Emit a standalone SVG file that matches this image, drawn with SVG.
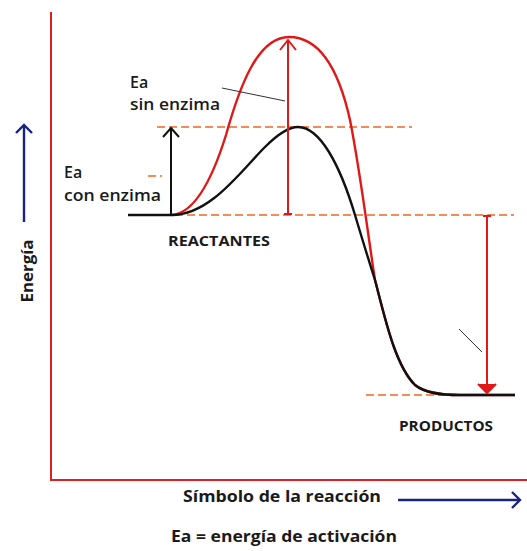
<svg xmlns="http://www.w3.org/2000/svg" width="527" height="551" viewBox="0 0 527 551">
<style>
.t{font-family:"Open Sans","Liberation Sans",sans-serif;font-weight:600;fill:#1a1a1a}
.b{font-weight:700}
.dash{stroke:#f26522;stroke-width:1.6;stroke-dasharray:8 4;fill:none}
.lead{stroke:#333;stroke-width:1;fill:none}
</style>
<rect width="527" height="551" fill="#fff"/>
<g id="axes" fill="none" stroke="#e02020" stroke-width="2">
<path d="M51,12 V480 H527"/>
</g>
<g id="guides">
<line class="dash" x1="157" y1="127" x2="412" y2="127"/>
<line class="dash" x1="175" y1="215" x2="514" y2="215"/>
<line class="dash" x1="366" y1="395" x2="445" y2="395"/>
<line class="dash" x1="148" y1="176" x2="162" y2="176"/>
</g>
<g id="curves" fill="none" stroke-width="2.4">
<path id="red-curve" stroke="#e01818" d="M172,215 C195,213 212,180 226,135 C240,85 258,37 289,37 C322,37 340,75 350,120 C360,170 368,235 375,280 C385,318 395,365 415,385 C425,393 440,395 460,395 L515,395"/>
<path id="black-curve" stroke="#111" d="M128,215 L172,215 C210,215 240,172 265,147 C280,132 290,127 298,127 C320,127 340,165 355,215 C361,235 368,258 375,280 C385,318 395,365 415,385 C425,393 440,395 460,395 L515,395"/>
</g>
<g id="connectors" fill="none">
<g id="arrow-ea-con" stroke="#111" stroke-width="2">
<line x1="171" y1="215" x2="171" y2="129"/>
<path d="M163,137 L171,128 L179,137"/>
</g>
<g id="arrow-ea-sin" stroke="#e01818" stroke-width="2">
<line x1="288" y1="214" x2="288" y2="41"/>
<path d="M280,50 L288,40 L296,50"/>
<line x1="284" y1="214" x2="292" y2="214"/>
</g>
<g id="arrow-dh" stroke="#e01818" stroke-width="2">
<line x1="487" y1="216" x2="487" y2="392"/>
<line x1="483" y1="216" x2="491" y2="216"/>
<path d="M478,384 L487,393 L496,384" fill="#e01818"/>
</g>
<g id="arrow-energy" stroke="#1a237e" stroke-width="2.4">
<line x1="24" y1="222" x2="24" y2="126"/>
<path d="M16,133 L24,125 L32,133"/>
</g>
<g id="arrow-reaction" stroke="#1a237e" stroke-width="2.4">
<line x1="398" y1="500" x2="519" y2="500"/>
<path d="M512,492 L520,500 L512,508"/>
</g>
<line class="lead" x1="222" y1="88" x2="285" y2="101"/>
<line class="lead" x1="459" y1="329" x2="482" y2="352"/>
</g>
<g id="labels">
<text class="t" x="130" y="88" font-size="16">Ea</text>
<text class="t" x="130" y="110" font-size="16" textLength="90" lengthAdjust="spacingAndGlyphs">sin enzima</text>
<text class="t" x="64" y="178" font-size="16">Ea</text>
<text class="t" x="64" y="201" font-size="16" textLength="97" lengthAdjust="spacingAndGlyphs">con enzima</text>
<text class="t b" x="168" y="246" font-size="15" textLength="102" lengthAdjust="spacingAndGlyphs">REACTANTES</text>
<text class="t b" x="399" y="431" font-size="15" textLength="94" lengthAdjust="spacingAndGlyphs">PRODUCTOS</text>
<text class="t b" x="183" y="502" font-size="16" textLength="198" lengthAdjust="spacingAndGlyphs">Símbolo de la reacción</text>
<text class="t b" x="171" y="542" font-size="16" textLength="226" lengthAdjust="spacingAndGlyphs">Ea = energía de activación</text>
<text class="t b" font-size="16" text-anchor="middle" textLength="63" lengthAdjust="spacingAndGlyphs" transform="translate(33,271) rotate(-90)">Energía</text>
</g>
</svg>
